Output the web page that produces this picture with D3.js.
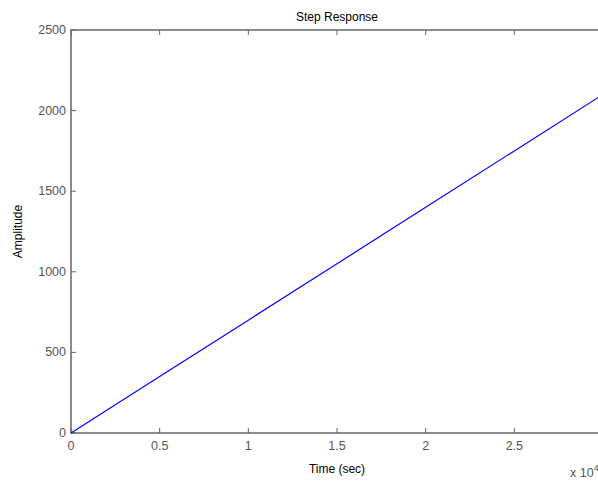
<!DOCTYPE html>
<html>
<head>
<meta charset="utf-8">
<script src="https://cdn.jsdelivr.net/npm/d3@7"></script>
<style>
  body { margin: 0; background: #fff; }
  text { font-family: "Liberation Sans", Arial, sans-serif; }
</style>
</head>
<body>
<div id="chart"></div>
<script>
// time in units of 1e4 sec
var timeVals = [0, 0.5, 1, 1.5, 2, 2.5, 3];
var ampVals = [0, 350, 700, 1050, 1400, 1750, 2100];
var xTicks = [0, 0.5, 1, 1.5, 2, 2.5, 3];
var yTicks = [0, 500, 1000, 1500, 2000, 2500];

var width = 598, height = 483;
var plotL = 71, plotR = 603, plotT = 30, plotB = 433;

var svg = d3.select("#chart").append("svg")
  .attr("width", width)
  .attr("height", height);

var x = d3.scaleLinear().domain([0, 3]).range([plotL, plotR]);
var y = d3.scaleLinear().domain([0, 2500]).range([plotB, plotT]);

var axisColor = "#666";

// box
svg.append("rect")
  .attr("x", plotL).attr("y", plotT)
  .attr("width", plotR - plotL).attr("height", plotB - plotT)
  .attr("fill", "none").attr("stroke", axisColor).attr("stroke-width", 1.5);

// inward ticks
var g = svg.append("g");
xTicks.forEach(function (t) {
  g.append("line").attr("x1", x(t)).attr("x2", x(t)).attr("y1", plotB).attr("y2", plotB - 5)
    .attr("stroke", axisColor);
  g.append("line").attr("x1", x(t)).attr("x2", x(t)).attr("y1", plotT).attr("y2", plotT + 5)
    .attr("stroke", axisColor);
  g.append("text").attr("x", x(t)).attr("y", plotB + 17)
    .attr("text-anchor", "middle").attr("font-size", 12.5).attr("fill", "#555")
    .text(t);
});
yTicks.forEach(function (v) {
  g.append("line").attr("x1", plotL).attr("x2", plotL + 5).attr("y1", y(v)).attr("y2", y(v))
    .attr("stroke", axisColor);
  g.append("line").attr("x1", plotR).attr("x2", plotR - 5).attr("y1", y(v)).attr("y2", y(v))
    .attr("stroke", axisColor);
  g.append("text").attr("x", plotL - 5).attr("y", y(v) + 4)
    .attr("text-anchor", "end").attr("font-size", 12.5).attr("fill", "#555")
    .text(v);
});

// exponent label
var ex = svg.append("text").attr("x", 570).attr("y", 477)
  .attr("font-size", 12.5).attr("fill", "#555");
ex.append("tspan").text("x 10");
ex.append("tspan").attr("font-size", 9).attr("dy", -6).text("4");

// response line
var line = d3.line().x(function (d, i) { return x(timeVals[i]); })
  .y(function (d) { return y(d); });
svg.append("path")
  .datum(ampVals)
  .attr("d", line)
  .attr("fill", "none")
  .attr("stroke", "#0000ff")
  .attr("stroke-width", 1.2);

// labels
svg.append("text").attr("x", (plotL + plotR) / 2).attr("y", 21)
  .attr("text-anchor", "middle").attr("font-size", 12).attr("fill", "#000")
  .text("Step Response");
svg.append("text").attr("x", (plotL + plotR) / 2).attr("y", 473)
  .attr("text-anchor", "middle").attr("font-size", 12).attr("fill", "#000")
  .text("Time (sec)");
svg.append("text")
  .attr("transform", "translate(22," + ((plotT + plotB) / 2) + ") rotate(-90)")
  .attr("text-anchor", "middle").attr("font-size", 12).attr("fill", "#000")
  .text("Amplitude");
</script>
</body>
</html>
